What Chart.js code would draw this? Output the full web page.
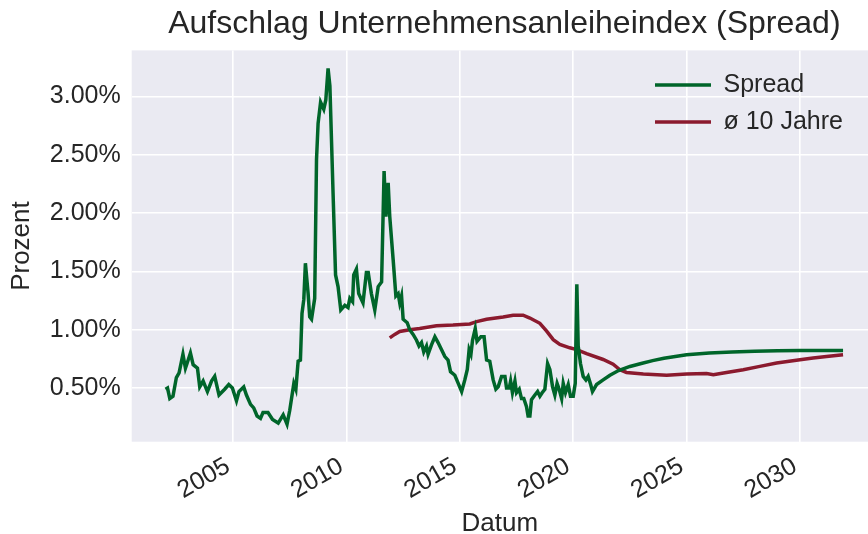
<!DOCTYPE html>
<html>
<head>
<meta charset="utf-8">
<title>Aufschlag Unternehmensanleiheindex</title>
<script src="https://cdn.jsdelivr.net/npm/chart.js@4/dist/chart.umd.min.js"></script>
<style>
  html, body { margin: 0; padding: 0; background: #ffffff; }
  #wrap { width: 868px; height: 534px; }
</style>
</head>
<body>
<div id="wrap"><canvas id="spread_chart" width="868" height="534"></canvas></div>
<script>
// Spread, decimal years (monthly-ish readings) + forecast tail
var spreadYears = [
    2002.02, 2002.11, 2002.21, 2002.35, 2002.50, 2002.62, 2002.79, 2002.90, 2002.97, 2003.12,
    2003.24, 2003.43, 2003.53, 2003.68, 2003.87, 2004.05, 2004.19, 2004.38, 2004.63, 2004.81,
    2004.97, 2005.15, 2005.26, 2005.47, 2005.59, 2005.77, 2005.91, 2006.06, 2006.21, 2006.32,
    2006.54, 2006.74, 2006.99, 2007.21, 2007.38, 2007.50, 2007.68, 2007.77, 2007.87, 2007.97,
    2008.04, 2008.12, 2008.19, 2008.31, 2008.38, 2008.46, 2008.60, 2008.68, 2008.75, 2008.86,
    2009.00, 2009.09, 2009.19, 2009.27, 2009.41, 2009.52, 2009.63, 2009.75, 2009.93, 2010.07,
    2010.15, 2010.27, 2010.32, 2010.44, 2010.54, 2010.73, 2010.88, 2010.96, 2011.10, 2011.25,
    2011.40, 2011.55, 2011.66, 2011.74, 2011.84, 2011.91, 2012.06, 2012.18, 2012.28, 2012.35,
    2012.43, 2012.50, 2012.68, 2012.79, 2012.94, 2013.09, 2013.20, 2013.31, 2013.41, 2013.53,
    2013.60, 2013.75, 2013.90, 2014.04, 2014.19, 2014.34, 2014.48, 2014.59, 2014.78, 2014.93,
    2015.08, 2015.22, 2015.33, 2015.41, 2015.49, 2015.56, 2015.68, 2015.76, 2015.93, 2016.07,
    2016.18, 2016.32, 2016.47, 2016.59, 2016.69, 2016.84, 2016.99, 2017.06, 2017.18, 2017.24,
    2017.32, 2017.43, 2017.50, 2017.62, 2017.72, 2017.82, 2017.94, 2018.01, 2018.09, 2018.16,
    2018.31, 2018.43, 2018.53, 2018.63, 2018.75, 2018.87, 2018.97, 2019.09, 2019.19, 2019.29,
    2019.38, 2019.49, 2019.56, 2019.66, 2019.78, 2019.88, 2020.00, 2020.09, 2020.16, 2020.22,
    2020.32, 2020.44, 2020.56, 2020.66, 2020.77, 2020.85,
    2021.03, 2021.32, 2021.62, 2022.00, 2022.50, 2023.00, 2023.50, 2024.00, 2024.50, 2025.00,
    2026.00, 2027.00, 2028.00, 2029.00, 2030.00, 2031.00, 2031.90
];
var spreadValues = [
    0.49, 0.50, 0.41, 0.43, 0.59, 0.63, 0.79, 0.67, 0.71, 0.80,
    0.70, 0.67, 0.51, 0.56, 0.47, 0.56, 0.60, 0.44, 0.49, 0.53,
    0.50, 0.39, 0.47, 0.51, 0.44, 0.36, 0.33, 0.26, 0.24, 0.29,
    0.29, 0.23, 0.20, 0.27, 0.19, 0.31, 0.54, 0.49, 0.73, 0.74,
    1.14, 1.26, 1.57, 1.31, 1.11, 1.09, 1.27, 2.46, 2.77, 2.95,
    2.89, 2.97, 3.24, 3.09, 2.17, 1.47, 1.37, 1.17, 1.21, 1.19,
    1.27, 1.24, 1.47, 1.52, 1.31, 1.23, 1.49, 1.49, 1.31, 1.17,
    1.37, 1.41, 2.36, 1.97, 2.26, 1.97, 1.60, 1.29, 1.31, 1.23,
    1.29, 1.09, 1.06, 1.00, 0.96, 0.91, 0.86, 0.89, 0.81, 0.86,
    0.79, 0.87, 0.94, 0.89, 0.83, 0.77, 0.74, 0.64, 0.61, 0.54,
    0.47, 0.57, 0.66, 0.83, 0.79, 0.91, 1.01, 0.90, 0.94, 0.94,
    0.74, 0.73, 0.57, 0.49, 0.51, 0.60, 0.60, 0.50, 0.50, 0.56,
    0.46, 0.56, 0.46, 0.49, 0.41, 0.41, 0.34, 0.26, 0.26, 0.40,
    0.44, 0.47, 0.43, 0.46, 0.49, 0.71, 0.66, 0.51, 0.44, 0.54,
    0.49, 0.41, 0.54, 0.46, 0.53, 0.43, 0.43, 0.54, 1.39, 0.86,
    0.71, 0.60, 0.57, 0.60, 0.53, 0.47,
    0.53, 0.57, 0.61, 0.65, 0.685, 0.71, 0.735, 0.755, 0.77, 0.785,
    0.80, 0.81, 0.816, 0.82, 0.822, 0.823, 0.823
];
// 10-year rolling average
var avgYears = [
    2011.91, 2012.13, 2012.35, 2012.79, 2013.23, 2013.97, 2014.70, 2015.44, 2015.74, 2016.18,
    2016.91, 2017.35, 2017.79, 2018.09, 2018.53, 2018.82, 2019.12, 2019.41, 2019.85, 2020.15,
    2020.59, 2021.32, 2021.76, 2022.06, 2022.35, 2023.09, 2024.12, 2025.00, 2025.88, 2026.18,
    2026.76, 2027.50, 2028.23, 2028.97, 2030.00, 2030.58, 2031.17, 2031.90
];
var avgValues = [
    0.93, 0.96, 0.985, 1.00, 1.01, 1.035, 1.04, 1.05, 1.07, 1.09,
    1.11, 1.125, 1.125, 1.10, 1.055, 0.99, 0.915, 0.875, 0.845, 0.83,
    0.795, 0.745, 0.705, 0.657, 0.634, 0.62, 0.61, 0.62, 0.625, 0.614,
    0.634, 0.657, 0.686, 0.714, 0.743, 0.757, 0.771, 0.786
];
var xTicks = [2005, 2010, 2015, 2020, 2025, 2030];
var yTicks = [0.5, 1.0, 1.5, 2.0, 2.5, 3.0];

function toPoints(xs, ys) {
    var pts = [];
    xs.forEach(function(x, i) { pts.push({ x: x, y: ys[i] }); });
    return pts;
}

Chart.defaults.font.family = "'Liberation Sans', Arial, sans-serif";
Chart.defaults.color = '#262626';

// grey plotting area like the seaborn darkgrid style
var areaBg = {
    id: 'areaBg',
    beforeDraw: function(chart) {
        var a = chart.chartArea, ctx = chart.ctx;
        ctx.save();
        ctx.fillStyle = '#EAEAF2';
        ctx.fillRect(a.left, a.top, a.right - a.left, a.bottom - a.top);
        ctx.restore();
    }
};
// legend into the upper right corner, title centred on the (cropped) axes
var boxSpots = {
    id: 'boxSpots',
    afterLayout: function(chart) {
        var lg = chart.legend;
        if (lg) {
            lg.left = 643;
            lg.top = chart.chartArea.top + 10;
        }
        var tt = chart.titleBlock;
        if (tt) {
            tt.right = 877;
        }
    }
};

var ctx = document.getElementById('spread_chart');
var chart = new Chart(ctx, {
    type: 'line',
    data: {
        datasets: [
            { label: 'Spread', data: toPoints(spreadYears, spreadValues),
              borderColor: '#00652A', backgroundColor: '#00652A', borderWidth: 3.5 },
            { label: 'ø 10 Jahre', data: toPoints(avgYears, avgValues),
              borderColor: '#8B1A2E', backgroundColor: '#8B1A2E', borderWidth: 3.5 }
        ]
    },
    options: {
        responsive: false,
        animation: false,
        devicePixelRatio: 1,
        layout: { padding: 0 },
        elements: {
            line: { tension: 0 },
            point: { radius: 0, hoverRadius: 0 }
        },
        plugins: {
            title: {
                display: true,
                text: 'Aufschlag Unternehmensanleiheindex (Spread)',
                fullSize: false,
                font: { size: 32, weight: 'normal' },
                color: '#262626',
                padding: { top: 5, bottom: 7 }
            },
            legend: {
                position: 'chartArea',
                align: 'start',
                labels: {
                    usePointStyle: true,
                    pointStyle: 'line',
                    pointStyleWidth: 56,
                    padding: 12,
                    color: '#262626',
                    font: { size: 25 }
                }
            },
            tooltip: { enabled: false }
        },
        scales: {
            x: {
                type: 'linear',
                min: 2000.53,
                max: 2033.0,
                afterBuildTicks: function(s) { s.ticks = xTicks.map(function(v) { return { value: v }; }); },
                afterFit: function(s) { s.height = 92.3; },
                grid: { color: '#ffffff', lineWidth: 1.6, drawTicks: false },
                border: { display: false },
                ticks: {
                    autoSkip: false,
                    maxRotation: 30,
                    minRotation: 30,
                    padding: 10,
                    labelOffset: -5,
                    font: { size: 25 },
                    color: '#262626',
                    callback: function(v) { return String(v); }
                },
                title: {
                    display: true,
                    text: 'Datum',
                    font: { size: 26 },
                    color: '#262626',
                    padding: { top: 0, bottom: -5 }
                }
            },
            y: {
                type: 'linear',
                min: 0.04,
                max: 3.395,
                afterBuildTicks: function(s) { s.ticks = yTicks.map(function(v) { return { value: v }; }); },
                afterFit: function(s) { s.width = 131.7; },
                grid: { color: '#ffffff', lineWidth: 1.6, drawTicks: false },
                border: { display: false },
                ticks: {
                    padding: 11,
                    font: { size: 25 },
                    color: '#262626',
                    callback: function(v) { return v.toFixed(2) + '%'; }
                },
                title: {
                    display: true,
                    text: 'Prozent',
                    font: { size: 26 },
                    color: '#262626',
                    padding: { top: 6, bottom: 0 }
                }
            }
        }
    },
    plugins: [areaBg, boxSpots]
});
</script>
</body>
</html>
